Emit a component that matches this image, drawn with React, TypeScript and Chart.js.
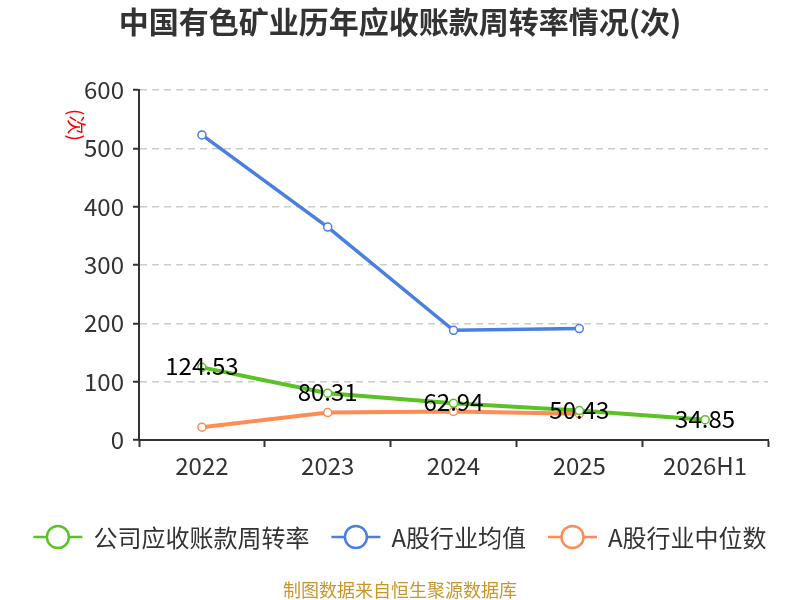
import { useEffect, useRef } from 'react';
import { Chart, registerables } from 'chart.js';

Chart.register(...registerables);

const years = ['2022', '2023', '2024', '2025', '2026H1'];
const companyTurnover = [124.53, 80.31, 62.94, 50.43, 34.85];
const industryMean = [523, 365, 188, 191, null];
const industryMedian = [22, 47, 49, 45, null];
const seriesNames = ['公司应收账款周转率', 'A股行业均值', 'A股行业中位数'];

const FONT = '"Noto Sans CJK SC", "Noto Sans", sans-serif';
const COLORS = ['#5ac323', '#4a7fe0', '#ff8c55'];

// title, legend, value labels, unit and source note
const extras = {
  id: 'extras',
  afterDatasetsDraw(chart: any) {
    const { ctx, chartArea } = chart;
    const meta = chart.getDatasetMeta(0);
    ctx.save();
    ctx.font = `24px ${FONT}`;
    ctx.fillStyle = '#000';
    ctx.textAlign = 'center';
    ctx.textBaseline = 'middle';
    meta.data.forEach((pt: any, i: number) => {
      ctx.fillText(companyTurnover[i].toFixed(2), pt.x, pt.y - 1);
    });
    ctx.restore();

    // unit
    ctx.save();
    ctx.translate(chartArea.left - 63, chartArea.top + 35);
    ctx.rotate(Math.PI / 2);
    ctx.font = `19px ${FONT}`;
    ctx.fillStyle = '#ff0000';
    ctx.textAlign = 'center';
    ctx.textBaseline = 'middle';
    ctx.fillText('(次)', 0, 0);
    ctx.restore();

    // title
    ctx.save();
    ctx.textAlign = 'center';
    ctx.textBaseline = 'middle';
    ctx.fillStyle = '#333';
    ctx.font = `bold 30px ${FONT}`;
    ctx.fillText('中国有色矿业历年应收账款周转率情况(次)', 400, 22);

    // legend
    ctx.font = `24px ${FONT}`;
    const markerW = 49;
    const gap = 11;
    const itemGap = 22;
    const widths = seriesNames.map((n) => ctx.measureText(n).width);
    const total =
      widths.reduce((a, w) => a + w + markerW + gap, 0) + itemGap * (seriesNames.length - 1);
    let x = 400 - total / 2;
    const ly = 537;
    seriesNames.forEach((name, i) => {
      ctx.strokeStyle = COLORS[i];
      ctx.lineWidth = 2.5;
      ctx.beginPath();
      ctx.moveTo(x, ly);
      ctx.lineTo(x + markerW, ly);
      ctx.stroke();
      ctx.beginPath();
      ctx.fillStyle = '#fff';
      ctx.arc(x + markerW / 2, ly, 11, 0, Math.PI * 2);
      ctx.fill();
      ctx.stroke();
      ctx.fillStyle = '#333';
      ctx.textAlign = 'left';
      ctx.fillText(name, x + markerW + gap, ly + 1);
      x += markerW + gap + widths[i] + itemGap;
    });

    // source
    ctx.font = `18px ${FONT}`;
    ctx.fillStyle = '#c9962a';
    ctx.textAlign = 'center';
    ctx.fillText('制图数据来自恒生聚源数据库', 400, 590);
    ctx.restore();
  },
};

export default function App() {
  const canvasRef = useRef<HTMLCanvasElement>(null);

  useEffect(() => {
    document.body.style.margin = '0';
    if (!canvasRef.current) return;
    const chart = new Chart(canvasRef.current, {
      type: 'line',
      data: {
        labels: years,
        datasets: [companyTurnover, industryMean, industryMedian].map((data, i) => ({
          label: seriesNames[i],
          data,
          borderColor: COLORS[i],
          backgroundColor: '#fff',
          borderWidth: i === 1 ? 3.5 : 4,
          pointRadius: 4,
          pointBorderWidth: 1.5,
          pointBorderColor: COLORS[i],
          pointBackgroundColor: '#fff',
          spanGaps: false,
        })),
      },
      options: {
        responsive: false,
        animation: false,
        layout: { padding: { left: 0, right: 32, top: 90, bottom: 120 } },
        plugins: {
          legend: { display: false },
          title: { display: false },
          tooltip: { enabled: false },
        },
        scales: {
          x: {
            offset: true,
            afterFit: (s: any) => {
              s.height = 40;
            },
            grid: {
              offset: true,
              drawOnChartArea: false,
              tickLength: 7,
              tickColor: '#333',
              tickWidth: 2,
            },
            border: { color: '#333', width: 2 },
            ticks: { color: '#333', font: { family: FONT, size: 24 }, padding: 4 },
          },
          y: {
            min: 0,
            max: 600,
            afterFit: (s: any) => {
              s.width = 139;
            },
            ticks: { stepSize: 100, color: '#333', font: { family: FONT, size: 24 }, padding: 9 },
            grid: {
              color: (c: any) => (c.tick && c.tick.value === 0 ? 'transparent' : '#ccc'),
              lineWidth: 1.5,
              tickLength: 6,
              tickColor: '#333',
              tickWidth: 2,
              tickBorderDash: [],
            },
            border: { color: '#333', width: 2, dash: [7, 5] },
          },
        },
      },
      plugins: [extras],
    });
    return () => chart.destroy();
  }, []);

  return <canvas ref={canvasRef} width={800} height={600} style={{ display: 'block' }} />;
}
